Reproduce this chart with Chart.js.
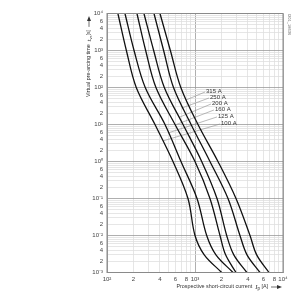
<!DOCTYPE html>
<html lang="en">
<head>
  <meta charset="UTF-8" />
  <title>Time-current characteristic</title>
  <script src="https://cdn.jsdelivr.net/npm/chart.js@4.4.0/dist/chart.umd.min.js"></script>
  <style>
    html, body { margin: 0; padding: 0; background: #fff; }
    #wrap { width: 300px; height: 300px; }
  </style>
</head>
<body>
  <div id="wrap"><canvas id="fuseChart" width="300" height="300"></canvas></div>

  <script>
    // pre-arcing times [s] at which each curve was read
    const times = [1e4, 1e3, 1e2, 1e1, 1, 0.1, 0.01, 0.003, 0.001];

    // prospective current [A] for each rated current
    const ratings = ['100 A', '125 A', '160 A', '200 A', '250 A', '315 A'];
    const i100 = [133, 166, 215, 351, 562, 832, 1000, 1274, 2010];
    const i125 = [160, 203, 272, 456, 693, 1054, 1358, 1730, 2704];
    const i160 = [219, 275, 360, 593, 1000, 1479, 1923, 2228, 2924];
    const i200 = [263, 339, 448, 731, 1191, 1778, 2291, 2761, 3890];
    const i250 = [342, 440, 570, 902, 1479, 2371, 3243, 3899, 5483];
    const i315 = [400, 525, 690, 1081, 1824, 2924, 4217, 5023, 6934];
    const currents = [i100, i125, i160, i200, i250, i315];

    // leader lines: label end [A, s] -> curve end [A, s]
    const leaderFrom = [[1923, 10.3], [1778, 16], [1644, 24.7], [1520, 35.8], [1443, 52], [1299, 75.5]];
    const leaderTo   = [[433, 3.6], [493, 5.9], [593, 9.7], [676, 16], [711, 27.9], [791, 46]];

    const xTickLabels = { 100: '10²', 200: '2', 400: '4', 600: '6', 800: '8', 1000: '10³',
                          2000: '2', 4000: '4', 6000: '6', 8000: '8', 10000: '10⁴' };
    const yDecadeLabels = { '-3': '10⁻³', '-2': '10⁻²', '-1': '10⁻¹', '0': '10⁰',
                            '1': '10¹', '2': '10²', '3': '10³', '4': '10⁴' };

    const FONT = 'Arial, "Liberation Sans", sans-serif';

    function logTicks(min, max) {
      const ticks = [];
      for (let e = Math.log10(min); e < Math.log10(max); e++) {
        for (let m = 1; m < 10; m++) ticks.push({ value: m * Math.pow(10, e) });
      }
      ticks.push({ value: max });
      return ticks;
    }
    function isDecade(v) {
      const e = Math.log10(v);
      return Math.abs(e - Math.round(e)) < 1e-6;
    }
    function mantissa(v) {
      return Math.round(v / Math.pow(10, Math.floor(Math.log10(v) + 1e-9)));
    }

    const datasets = currents.map((arr) => ({
      data: times.map((t, k) => ({ x: arr[k], y: t })),
      borderColor: '#111',
      borderWidth: 1.3,
      pointRadius: 0,
      fill: false,
      tension: 0.35
    }));
    leaderFrom.forEach((p, k) => {
      datasets.push({
        data: [{ x: leaderTo[k][0], y: leaderTo[k][1] }, { x: p[0], y: p[1] }],
        borderColor: '#8c8c8c',
        borderWidth: 0.6,
        pointRadius: 0,
        fill: false
      });
    });

    // draw a run of text pieces [text, font, dy] from (x, y), returns end x
    function drawParts(ctx, parts, x, y) {
      parts.forEach(([s, f, dy]) => {
        ctx.font = f;
        ctx.fillText(s, x, y + dy);
        x += ctx.measureText(s).width;
      });
      return x;
    }
    function arrow(ctx, x0, y) {
      ctx.strokeStyle = '#333';
      ctx.lineWidth = 0.7;
      ctx.beginPath();
      ctx.moveTo(x0 + 3, y);
      ctx.lineTo(x0 + 10, y);
      ctx.stroke();
      ctx.beginPath();
      ctx.moveTo(x0 + 14, y);
      ctx.lineTo(x0 + 9, y - 2);
      ctx.lineTo(x0 + 9, y + 2);
      ctx.closePath();
      ctx.fill();
    }

    const textPlugin = {
      id: 'texts',
      afterDraw(chart) {
        const ctx = chart.ctx;
        const xs = chart.scales.x, ys = chart.scales.y;
        ctx.save();
        ctx.fillStyle = '#333';
        ctx.font = '6px ' + FONT;
        ctx.textBaseline = 'middle';
        ctx.textAlign = 'left';
        leaderFrom.forEach((p, k) => {
          ctx.fillText(ratings[k], xs.getPixelForValue(p[0]) + 1, ys.getPixelForValue(p[1]) - 1);
        });

        // y axis title (rotated)
        ctx.save();
        ctx.translate(89, 97);
        ctx.rotate(-Math.PI / 2);
        let end = drawParts(ctx, [
          ['Virtual pre-arcing time  ', '5.4px ' + FONT, 0],
          ['t', 'italic 6.5px "Liberation Serif", serif', 0],
          ['vs', '4px ' + FONT, 1.8],
          ['[s]', '5.4px ' + FONT, 0]
        ], 0, 0);
        arrow(ctx, end, 0);
        ctx.restore();

        // x axis title
        const xparts = [
          ['Prospective short-circuit current  ', '5.4px ' + FONT, 0],
          ['I', 'italic 6.5px "Liberation Serif", serif', 0],
          ['p', '4.5px ' + FONT, 1.5],
          [' [A]', '5.4px ' + FONT, 0]
        ];
        let w = 0;
        xparts.forEach(([s, f]) => { ctx.font = f; w += ctx.measureText(s).width; });
        end = drawParts(ctx, xparts, 283 - 15 - w, 287);
        arrow(ctx, end, 287);

        // drawing id at the right
        ctx.save();
        ctx.translate(289, 14);
        ctx.rotate(Math.PI / 2);
        ctx.font = '4px ' + FONT;
        ctx.fillStyle = '#666';
        ctx.fillText('I201_18636', 0, 0);
        ctx.restore();

        ctx.restore();
      }
    };

    const gridColor = (c) => (c.tick && isDecade(c.tick.value)) ? '#9a9a9a' : '#e0e0e0';

    new Chart(document.getElementById('fuseChart').getContext('2d'), {
      type: 'line',
      data: { datasets },
      options: {
        responsive: false,
        animation: false,
        events: [],
        layout: { padding: { left: 0, right: 17, top: 13.5, bottom: 0 } },
        plugins: { legend: { display: false }, tooltip: { enabled: false } },
        scales: {
          x: {
            type: 'logarithmic',
            min: 100,
            max: 10000,
            afterBuildTicks: (s) => { s.ticks = logTicks(100, 10000); },
            afterFit: (s) => { s.height = 27.5; },
            grid: { color: gridColor, lineWidth: 0.8, drawTicks: false },
            border: { color: '#9a9a9a' },
            ticks: {
              autoSkip: false,
              maxRotation: 0,
              padding: 3,
              color: '#444',
              font: { size: 6, family: FONT },
              callback: (v) => xTickLabels[Math.round(v)] || ''
            }
          },
          y: {
            type: 'logarithmic',
            min: 0.001,
            max: 10000,
            afterBuildTicks: (s) => { s.ticks = logTicks(0.001, 10000); },
            afterFit: (s) => { s.width = 107; },
            grid: { color: gridColor, lineWidth: 0.8, drawTicks: false },
            border: { color: '#9a9a9a' },
            ticks: {
              autoSkip: false,
              padding: 4,
              color: '#444',
              font: { size: 6, family: FONT },
              callback: (v) => {
                if (isDecade(v)) return yDecadeLabels[String(Math.round(Math.log10(v)))];
                const m = mantissa(v);
                return (m === 2 || m === 4 || m === 6) ? String(m) : '';
              }
            }
          }
        }
      },
      plugins: [textPlugin, {
        id: 'frame',
        afterDraw(chart) {
          const a = chart.chartArea, ctx = chart.ctx;
          ctx.save();
          ctx.strokeStyle = '#8a8a8a';
          ctx.lineWidth = 1;
          ctx.strokeRect(a.left, a.top, a.right - a.left, a.bottom - a.top);
          ctx.restore();
        }
      }]
    });
  </script>
</body>
</html>
